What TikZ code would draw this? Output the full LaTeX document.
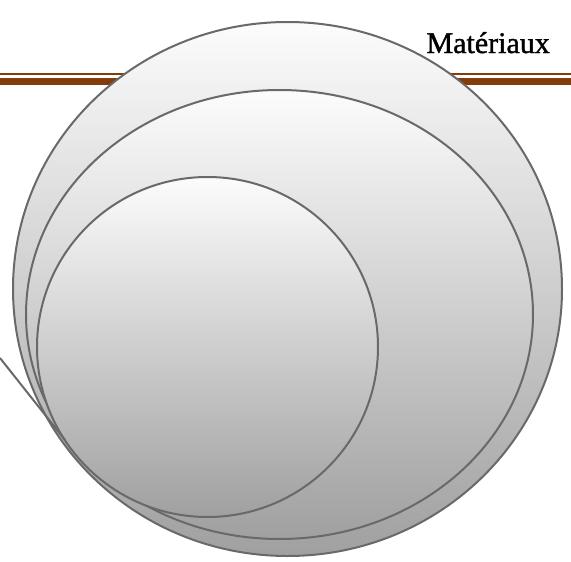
\documentclass[tikz,border=0pt]{standalone}
\usepackage{fontspec}
\setmainfont{Liberation Serif}
\newfontfamily\headfont[BoldFont={Liberation Serif}, BoldFeatures={FakeBold=1.3}]{Liberation Serif}
\usetikzlibrary{shapes.geometric}
\definecolor{rulebrown}{RGB}{132,60,12}
\definecolor{ringedge}{RGB}{105,105,105}
\definecolor{ringtop}{RGB}{252,252,252}
\definecolor{ringmid}{RGB}{212,212,212}
\definecolor{ringbottom}{RGB}{160,160,160}
\tikzset{
  ring/.style={ellipse, draw=ringedge, line width=2pt, inner sep=0pt,
    top color=ringtop, middle color=ringmid, bottom color=ringbottom},
  thinrule/.style={draw=rulebrown, line width=2pt},
  thickrule/.style={draw=rulebrown, line width=7.3pt},
  leader/.style={draw=ringedge, line width=2pt},
  headtext/.style={font=\headfont\bfseries\fontsize{30}{34}\selectfont, anchor=base east, inner sep=0pt}
}
\begin{document}
\begin{tikzpicture}[x=1pt,y=-1pt]
\useasboundingbox (0,0) rectangle (571,562);
% header rules
\coordinate (thinL) at (0,74.3);
\coordinate (thinR) at (571,74.3);
\coordinate (thickL) at (0,81.4);
\coordinate (thickR) at (571,81.4);
\draw[thinrule] (thinL) -- (thinR);
\draw[thickrule] (thickL) -- (thickR);
% nested rings
\node[ring, minimum width=549pt, minimum height=534pt] (big) at (287.5,289) {};
\node[ring, minimum width=507pt, minimum height=449pt] (mid) at (279.5,314.5) {};
\node[ring, minimum width=341pt, minimum height=340pt] (inner) at (207.5,347) {};
% leader line
\coordinate (leadstart) at (0,358);
\coordinate (touch) at (65,440);
\draw[leader] (leadstart) -- (touch);
% header text
\node[headtext] (title) at (550,53) {Matériaux};
\end{tikzpicture}
\end{document}
